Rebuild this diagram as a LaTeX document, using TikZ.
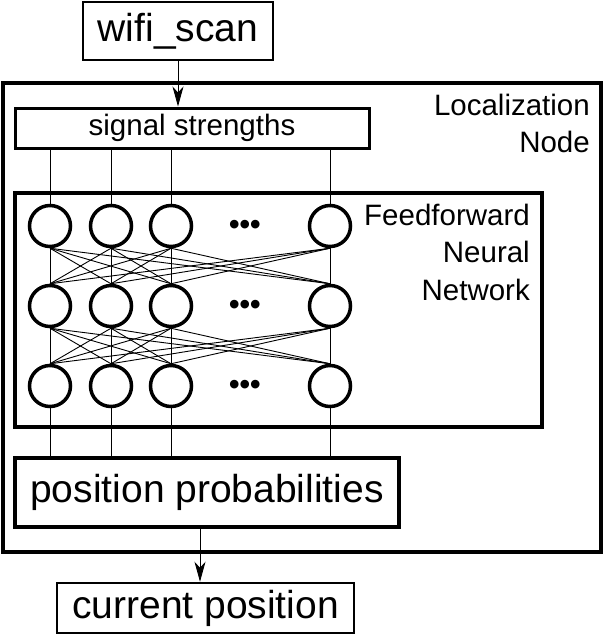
\documentclass[tikz,border=0pt]{standalone}
\usepackage{fontspec}
\setmainfont{Liberation Sans}
\usetikzlibrary{positioning,arrows.meta}

\begin{document}
\begin{tikzpicture}[x=1pt,y=-1pt,
>={Stealth[length=20pt,width=11pt,inset=6pt]},
block/.style={draw, rectangle, inner sep=0pt},
neuron/.style={draw, circle, line width=3.5pt, minimum size=41pt, inner sep=0pt},
wire/.style={line width=0.9pt},
bigtext/.style={font=\fontsize{39}{47}\selectfont},
smalltext/.style={font=\fontsize{29.5}{37.5}\selectfont}]
\useasboundingbox (0,0) rectangle (604,635);
% outer boxes
\node[block, line width=3.5pt, minimum width=598pt, minimum height=469pt] (loc) at (302,317.5) {};
\node[smalltext, align=right, anchor=north east, inner sep=0pt] (loclabel) at (590,93.5) {Localization\\Node};
\node[block, line width=3.5pt, minimum width=527pt, minimum height=234pt] (ffnn) at (278.5,310) {};
\node[smalltext, align=right, anchor=north east, inner sep=0pt] (ffnnlabel) at (530,203.5) {Feedforward\\Neural\\Network};
% input and output
\node[block, bigtext, line width=2.5pt, minimum width=190pt, minimum height=58pt] (scan) at (178,31) {wifi\_scan};
\node[block, smalltext, line width=3pt, minimum width=354pt, minimum height=40pt] (sig) at (192,128) {signal strengths};
\node[block, bigtext, line width=3.5pt, minimum width=384pt, minimum height=69pt] (prob) at (207,492.5) {position probabilities};
\node[block, bigtext, line width=2.5pt, minimum width=297pt, minimum height=50pt] (pos) at (205.5,608) {current position};
% neurons
\foreach \r/\y in {1/226,2/306,3/386} {
  \foreach \c/\x in {1/50,2/111,3/171,4/330}
    \node[neuron] (n\r\c) at (\x,\y) {};
  \node[font=\fontsize{30}{36}\bfseries] (dots\r) at (245,\y+1) {•••};
}
% connections
\foreach \c in {1,...,4} {
  \draw[wire] (sig.south -| n1\c) -- (n1\c.north);
  \draw[wire] (n3\c.south) -- (prob.north -| n3\c);
  \foreach \d in {1,...,4} {
    \draw[wire] (n1\c.south) -- (n2\d.north);
    \draw[wire] (n2\c.south) -- (n3\d.north);
  }
}
\draw[wire,->] (scan.south) -- (scan.south |- sig.north);
\draw[wire,->] ([xshift=-7pt]prob.south) -- ([xshift=-7pt]prob.south |- pos.north);
\end{tikzpicture}
\end{document}
